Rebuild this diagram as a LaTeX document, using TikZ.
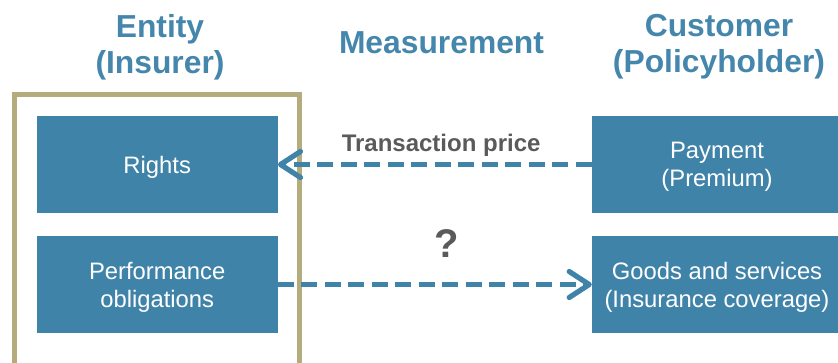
\documentclass[tikz,border=0pt]{standalone}
\usepackage{fontspec}
\setmainfont{Liberation Sans}
\usetikzlibrary{positioning,arrows.meta}
\definecolor{boxblue}{HTML}{4083A9}
\definecolor{headblue}{HTML}{4587AC}
\definecolor{framegold}{HTML}{B5AC7E}
\definecolor{labelgray}{HTML}{5A5A5A}

\begin{document}
\begin{tikzpicture}[x=1pt, y=-1pt, node distance=120pt,
        block/.style={fill=boxblue, text=white, align=center, minimum height=97pt, text depth=0pt, font=\fontsize{23.8}{28}\selectfont},
        head/.style={text=headblue, align=center, font=\bfseries\fontsize{31.8}{36}\selectfont},
        flowlabel/.style={text=labelgray, inner sep=0pt},
        flow/.style={boxblue, line width=5.2pt, dash pattern=on 16pt off 7.5pt, -{Straight Barb[length=20pt, width=26pt, round]}}]
        \useasboundingbox (0,0) rectangle (838,362);

        \node[head] (entity) at (160,47) {Entity\\(Insurer)};
        \node[head] (measurement) at (441.5,43) {Measurement};
        \node[head] (customer) at (719,47) {Customer\\(Policyholder)};

        \draw[framegold, line width=5pt] (14.2,94.2) rectangle (299,375);

        \node[block, minimum width=241pt] (rights) at (157.2,164.5) {Rights};
        \node[block, minimum width=241pt, below of=rights] (obligations) {Performance\\obligations};
        \node[block, minimum width=250pt] (payment) at (717,164.5) {Payment\\(Premium)};
        \node[block, minimum width=250pt, below of=payment] (coverage) {Goods and services\\(Insurance coverage)};

        \draw[flow] (payment.west) -- node[pos=0.48, above=5pt, flowlabel, font=\bfseries\fontsize{24}{28}\selectfont] (price) {Transaction price} (rights.east);
        \draw[flow] (obligations.east) -- node[pos=0.538, above=24.5pt, flowlabel, font=\bfseries\fontsize{40}{44}\selectfont] (unknown) {?} (coverage.west);
    \end{tikzpicture}
\end{document}
